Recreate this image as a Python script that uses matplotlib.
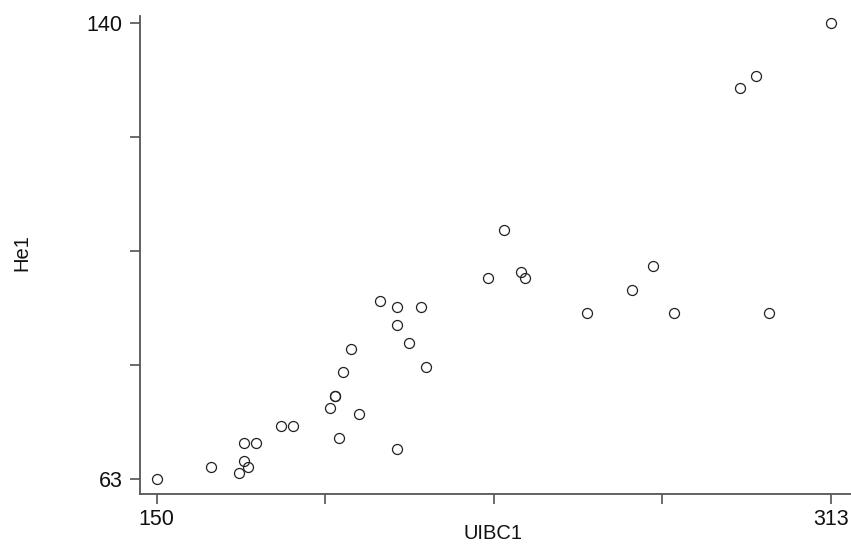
import numpy as np
import matplotlib
matplotlib.use('Agg')
import matplotlib.pyplot as plt

plt.rcParams['font.family'] = ['Liberation Sans', 'DejaVu Sans']

uibc1 = [150, 163, 170, 171, 172, 171, 174, 180, 183, 192, 193, 193, 194, 195, 197, 199,
         204, 208, 208, 208, 211, 214, 215, 230, 234, 238, 239, 254, 265, 270, 275,
         291, 295, 298, 313]
he1 = [63, 65, 64, 66, 65, 69, 69, 72, 72, 75, 77, 77, 70, 81, 85, 74,
       93, 92, 89, 68, 86, 92, 82, 97, 105, 98, 97, 91, 95, 99, 91,
       129, 131, 91, 140]

x_range = [150, 313]
y_range = [63, 140]

W, H = 851, 546
fig = plt.figure(figsize=(W / 100, H / 100), dpi=100)
ax = fig.add_axes([140 / W, 1 - 494 / H, 711 / W, 478 / H])

ax.plot(uibc1, he1, linestyle='none', marker='o', markersize=7.2,
        markerfacecolor='none', markeredgecolor='#222222', markeredgewidth=0.9)

ax.set_xlim(145.94, 317.9)
ax.set_ylim(60.47, 141.2)

# R-style axes: 5 evenly spaced ticks, only the ends labelled
xt = np.linspace(x_range[0], x_range[1], 5)
yt = np.linspace(y_range[0], y_range[1], 5)
ax.set_xticks(xt)
ax.set_xticklabels([str(x_range[0]), '', '', '', str(x_range[1])])
ax.set_yticks(yt)
ax.set_yticklabels([str(y_range[0]), '', '', '', str(y_range[1])])

for side in ['top', 'right']:
    ax.spines[side].set_visible(False)
for side in ['left', 'bottom']:
    ax.spines[side].set_color('#555555')
    ax.spines[side].set_linewidth(1.3)

ax.tick_params(axis='both', direction='out', length=7.5, width=1.1, color='#444444',
               labelsize=15.5, labelcolor='#111111')
ax.tick_params(axis='x', pad=3)
ax.tick_params(axis='y', pad=5)

fig.text(493 / W, 1 - 539 / H, 'UIBC1', fontsize=14.5, color='#111111',
         ha='center', va='baseline')
fig.text(31 / W, 1 - 253 / H, 'He1', fontsize=14.5, color='#111111',
         rotation=90, ha='right', va='center')

plt.savefig('out.png', dpi=100)
plt.close()
